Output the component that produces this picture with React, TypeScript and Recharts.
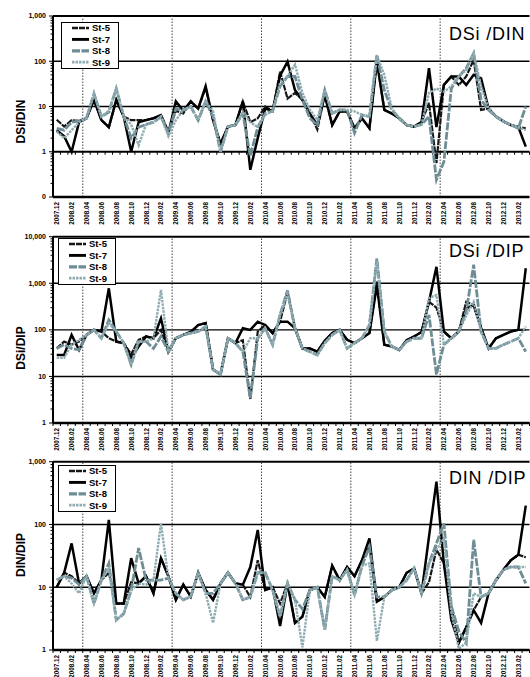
import { Legend, Line, LineChart, ReferenceLine, XAxis, YAxis } from 'recharts'

const FONT = '"Liberation Sans", Arial, sans-serif'

const MONTHS = [
  '2007.12',
  '2008.01', '2008.02', '2008.03', '2008.04', '2008.05', '2008.06', '2008.07', '2008.08', '2008.09', '2008.10', '2008.11', '2008.12',
  '2009.01', '2009.02', '2009.03', '2009.04', '2009.05', '2009.06', '2009.07', '2009.08', '2009.09', '2009.10', '2009.11', '2009.12',
  '2010.01', '2010.02', '2010.03', '2010.04', '2010.05', '2010.06', '2010.07', '2010.08', '2010.09', '2010.10', '2010.11', '2010.12',
  '2011.01', '2011.02', '2011.03', '2011.04', '2011.05', '2011.06', '2011.07', '2011.08', '2011.09', '2011.10', '2011.11', '2011.12',
  '2012.01', '2012.02', '2012.03', '2012.04', '2012.05', '2012.06', '2012.07', '2012.08', '2012.09', '2012.10', '2012.11', '2012.12',
  '2013.01', '2013.02', '2013.03',
]

// fiscal year starts, drawn as dotted separators
const FY_STARTS = ['2008.04', '2009.04', '2010.04', '2011.04', '2012.04']

// DSi/DIN
const DSI_DIN_ST5 = [
  5.1, 3.6, 5.0, 4.8, 5.5, 14, 5.0, 3.5,
  14, 6.0, 5.0, 5.0, 5.0, 5.5, 6.5, 2.8,
  8.0, 7.0, 13, 9.0, 26, 5.0, 1.5, 3.6,
  3.9, 13, 4.5, 5.5, 10, 8.0, 59, 15,
  20, 14, 7.0, 3.1, 18, 3.9, 7.8, 7.8,
  3.3, 5.5, 3.3, 107, 8.4, 7.0, 5.5, 3.9,
  3.6, 4.5, 12, 0.56, 30, 46, 30, 46,
  107, 8.4, 9.0, 6.0, 4.7, 3.9, 3.5, 3.3,
]
const DSI_DIN_ST7 = [
  3.0, 2.2, 1.0, 4.5, 5.5, 14, 5.0, 3.5,
  14, 6.0, 1.0, 4.5, 5.0, 5.5, 6.4, 2.6,
  13, 8.0, 13, 9.0, 28, 5.0, 1.5, 3.6,
  3.9, 13, 0.4, 2.0, 9.0, 8.0, 48, 98,
  23, 14, 7.0, 3.9, 18, 3.9, 7.8, 7.8,
  3.3, 5.5, 3.3, 100, 8.4, 7.0, 5.5, 3.9,
  3.6, 4.5, 70, 3.5, 30, 46, 46, 30,
  50, 42, 9.0, 6.0, 4.7, 3.9, 3.5, 1.3,
]
const DSI_DIN_ST8 = [
  3.3, 3.0, 4.5, 4.8, 5.5, 19, 6.0, 7.5,
  25, 6.0, 2.0, 3.5, 4.0, 4.5, 6.0, 2.6,
  9.0, 8.4, 10, 5.0, 13, 6.0, 1.0, 3.6,
  3.9, 7.0, 0.8, 3.5, 7.0, 8.0, 28, 46,
  46, 14, 5.5, 3.9, 23, 7.1, 8.4, 8.4,
  2.6, 6.5, 6.0, 137, 23, 8.4, 5.5, 3.9,
  3.6, 4.0, 6.0, 0.24, 0.6, 25, 46, 70,
  150, 14, 8.4, 6.0, 4.7, 3.9, 3.3, 10,
]
const DSI_DIN_ST9 = [
  2.8, 2.0, 3.0, 4.5, 5.5, 20, 6.0, 8.0,
  25, 6.0, 4.0, 1.4, 4.0, 4.5, 6.0, 2.2,
  5.0, 8.4, 10, 5.0, 13, 8.0, 1.0, 3.6,
  3.9, 7.5, 4.5, 3.5, 6.5, 8.0, 33, 46,
  85, 20, 8.5, 5.0, 23, 7.1, 8.4, 8.4,
  7.8, 6.5, 6.0, 137, 50, 9.0, 5.5, 3.9,
  3.6, 4.0, 20, 25, 21, 28, 46, 64,
  150, 28, 9.0, 6.0, 4.7, 3.9, 3.5, 3.0,
]

// DSi/DIP
const DSI_DIP_ST5 = [
  40, 56, 48, 56, 78, 100, 92, 66,
  56, 52, 30, 61, 72, 66, 100, 34,
  66, 78, 90, 127, 140, 14, 11, 66,
  52, 60, 3.2, 92, 127, 85, 150, 650,
  108, 40, 40, 34, 58, 85, 100, 61,
  52, 66, 85, 1090, 48, 44, 37, 60,
  72, 90, 400, 300, 92, 66, 92, 400,
  340, 110, 40, 66, 78, 92, 100, 100,
]
const DSI_DIP_ST7 = [
  29, 29, 78, 37, 78, 100, 92, 780,
  56, 52, 25, 44, 72, 66, 177, 34,
  66, 78, 90, 127, 140, 14, 11, 66,
  52, 108, 100, 150, 127, 85, 150, 150,
  108, 40, 40, 34, 58, 85, 100, 61,
  52, 66, 85, 900, 48, 44, 37, 60,
  72, 90, 400, 2260, 92, 66, 92, 290,
  340, 110, 40, 66, 78, 92, 100, 2100,
]
const DSI_DIP_ST8 = [
  40, 48, 40, 37, 78, 100, 66, 163,
  92, 52, 18, 56, 56, 40, 72, 34,
  66, 78, 85, 92, 118, 14, 11, 66,
  52, 34, 3.4, 66, 108, 48, 210, 700,
  108, 40, 34, 29, 52, 78, 100, 40,
  52, 66, 127, 3400, 92, 44, 37, 56,
  66, 66, 210, 11, 48, 66, 92, 250,
  2500, 92, 40, 40, 48, 56, 66, 34,
]
const DSI_DIP_ST9 = [
  25, 25, 48, 61, 78, 100, 66, 140,
  92, 52, 18, 56, 56, 66, 720, 34,
  66, 78, 85, 92, 118, 14, 11, 66,
  52, 34, 66, 66, 108, 48, 210, 600,
  108, 40, 34, 29, 52, 78, 100, 40,
  52, 66, 127, 3000, 92, 44, 37, 56,
  66, 66, 480, 560, 48, 66, 92, 200,
  400, 92, 40, 40, 48, 56, 66, 118,
]

// DIN/DIP
const DIN_DIP_ST5 = [
  10, 17, 15, 11.5, 15, 8, 13, 17,
  5.5, 5.5, 12, 11.5, 15, 8, 29, 15,
  6.3, 11, 7.1, 17, 9, 6.3, 11.5, 17,
  11.5, 11, 7, 27, 9, 10, 5.5, 11.5,
  2.7, 3.4, 9, 10, 7, 22, 13, 21,
  15, 27, 44, 5.9, 7, 9, 10, 17,
  20, 8, 12, 40, 24, 5, 1.3, 2.3,
  4.3, 7, 8, 13, 19, 27, 33, 30,
]
const DIN_DIP_ST7 = [
  10, 17, 50, 11.5, 15, 8, 13, 118,
  5.5, 5.5, 29, 11.5, 15, 8, 29, 15,
  6.3, 11, 7.1, 17, 9, 6.3, 11.5, 17,
  11.5, 11, 21, 82, 9, 10, 2.4, 11.5,
  2.7, 3.4, 9, 10, 7, 22, 13, 21,
  15, 27, 60, 5.9, 7, 9, 10, 17,
  20, 8, 64, 480, 24, 3, 1.3, 2.3,
  4.3, 2.7, 8, 13, 19, 27, 33, 200,
]
const DIN_DIP_ST8 = [
  13, 15, 14, 11, 15, 5.5, 13, 24,
  3, 3.8, 9, 42, 13, 13, 13, 14,
  8, 6.3, 7.1, 17, 8, 8, 11.5, 17,
  11.5, 6.3, 7, 17, 17, 9, 3.4, 11.5,
  6.3, 4.5, 9, 10, 2.1, 15, 13, 19,
  7.5, 22, 44, 7, 7, 9, 10, 13,
  20, 8, 24, 50, 104, 5, 2, 1.3,
  57, 7, 8, 13, 19, 21, 21, 11.5,
]
const DIN_DIP_ST9 = [
  13, 15, 11.5, 8, 15, 5.5, 13, 20,
  3, 3.8, 9, 11.5, 11, 13, 104, 14,
  8, 6.3, 7.1, 17, 8, 2.7, 11.5, 17,
  11.5, 6.3, 7, 17, 17, 9, 3.4, 11.5,
  6.3, 1.1, 9, 10, 2.1, 15, 13, 19,
  7.5, 22, 24, 1.4, 7, 9, 10, 13,
  20, 8, 24, 40, 60, 4, 1.05, 1.3,
  8, 7, 8, 13, 19, 21, 21, 21,
]

const SERIES = [
  { key: 'st5', name: 'St-5', color: '#161616', width: 2.2, dash: '6 1' },
  { key: 'st7', name: 'St-7', color: '#000000', width: 2.5, dash: undefined },
  { key: 'st8', name: 'St-8', color: '#6f8d94', width: 2.8, dash: '8 1.5' },
  { key: 'st9', name: 'St-9', color: '#8eacb2', width: 2.4, dash: '2.5 1' },
]

const PANELS = [
  {
    title: 'DSi /DIN', yLabel: 'DSi/DIN',
    top: 0, height: 228, plotTop: 16, plotBottom: 197, xAxisHeight: 30,
    majors: [0.1, 1, 10, 100, 1000],
    titleY: 39.5, yLabelY: 121.5, legendLeft: 61, legendTop: 22,
    values: { st5: DSI_DIN_ST5, st7: DSI_DIN_ST7, st8: DSI_DIN_ST8, st9: DSI_DIN_ST9 },
  },
  {
    title: 'DSi /DIP', yLabel: 'DSi/DIP',
    top: 226, height: 230, plotTop: 10.7, plotBottom: 197, xAxisHeight: 30,
    majors: [1, 10, 100, 1000, 10000],
    titleY: 31.3, yLabelY: 122, legendLeft: 58, legendTop: 12,
    values: { st5: DSI_DIP_ST5, st7: DSI_DIP_ST7, st8: DSI_DIP_ST8, st9: DSI_DIP_ST9 },
  },
  {
    title: 'DIN /DIP', yLabel: 'DIN/DIP',
    top: 451, height: 226, plotTop: 10.7, plotBottom: 199, xAxisHeight: 27,
    majors: [1, 10, 100, 1000],
    titleY: 33.3, yLabelY: 104, legendLeft: 58, legendTop: 14,
    values: { st5: DIN_DIP_ST5, st7: DIN_DIP_ST7, st8: DIN_DIP_ST8, st9: DIN_DIP_ST9 },
  },
]

const isMajor = (v: number) => Math.abs(Math.log10(v) - Math.round(Math.log10(v))) < 1e-6

const fmtY = (v: number) => (v < 1 ? '0' : v.toLocaleString('en-US'))

function YTick(props: any) {
  const { x, y, payload } = props
  const v = payload.value
  const major = isMajor(v)
  return (
    <g>
      <line x1={x - (major ? 4 : 2.5)} x2={x} y1={y} y2={y} stroke="#000" strokeWidth={1} />
      {major && (
        <text x={x - 7} y={y} dy="0.35em" textAnchor="end" fontSize={7} fontWeight="bold" fontFamily={FONT} fill="#000">
          {fmtY(v)}
        </text>
      )}
    </g>
  )
}

function XTick(props: any) {
  const { x, y, payload } = props
  const ty = y + 5
  return (
    <text
      x={x}
      y={ty}
      transform={`rotate(-90 ${x} ${ty})`}
      textAnchor="end"
      dominantBaseline="central"
      fontSize={6.3}
      fontWeight="bold"
      fontFamily={FONT}
      fill="#000"
    >
      {MONTHS[payload.value]}
    </text>
  )
}

// the category axis crosses at 1, with a tick between every month
function CrossingAxis(props: any) {
  const { x1, x2, y1 } = props
  const n = MONTHS.length
  const marks = []
  for (let k = 0; k <= n; k++) {
    const x = x1 + ((x2 - x1) * k) / n
    marks.push(<line key={k} x1={x} x2={x} y1={y1} y2={y1 + 3} stroke="#000" strokeWidth={1} />)
  }
  return (
    <g>
      <line x1={x1} x2={x2} y1={y1} y2={y1} stroke="#000" strokeWidth={2} />
      {marks}
    </g>
  )
}

function LegendBox() {
  return (
    <div style={{ width: 58, height: 47, border: '1px solid #000', background: '#fff', boxSizing: 'border-box' }}>
      <svg width={56} height={45} style={{ display: 'block' }}>
        {SERIES.map((s, i) => {
          const y = 5 + i * 11.4
          return (
            <g key={s.key}>
              <line x1={10} x2={27} y1={y} y2={y} stroke={s.color} strokeWidth={s.width + 0.4} strokeDasharray={s.dash} />
              <text x={30} y={y} dy="0.35em" fontSize={9.5} fontWeight="bold" fontFamily={FONT} fill="#000">
                {s.name}
              </text>
            </g>
          )
        })}
      </svg>
    </div>
  )
}

function Panel({ panel }: { panel: (typeof PANELS)[number] }) {
  const data = MONTHS.map((m, i) => ({
    i,
    month: m,
    st5: panel.values.st5[i],
    st7: panel.values.st7[i],
    st8: panel.values.st8[i],
    st9: panel.values.st9[i],
  }))
  const lo = panel.majors[0]
  const hi = panel.majors[panel.majors.length - 1]
  const yTicks: number[] = []
  panel.majors.forEach((d, idx) => {
    yTicks.push(d)
    if (idx < panel.majors.length - 1) for (let k = 2; k <= 9; k++) yTicks.push(d * k)
  })
  const xTicks = MONTHS.map((_, i) => i).filter((i) => i % 2 === 0)
  const marginBottom = panel.height - panel.plotBottom - panel.xAxisHeight

  return (
    <div style={{ position: 'absolute', left: 0, top: panel.top }}>
      <LineChart
        width={530}
        height={panel.height}
        data={data}
        margin={{ top: panel.plotTop, right: 0.5, left: 0, bottom: marginBottom }}
      >
        <XAxis
          dataKey="i"
          type="number"
          domain={[-0.5, MONTHS.length - 0.5]}
          ticks={xTicks}
          interval={0}
          height={panel.xAxisHeight}
          tickSize={0}
          tickMargin={0}
          tickLine={false}
          tick={<XTick />}
          axisLine={{ stroke: '#000', strokeWidth: 2.5 }}
          allowDataOverflow
          label={() => (
            <text x={449} y={panel.titleY} fontSize={18} letterSpacing={0.8} fontFamily={FONT} fill="#000">
              {panel.title}
            </text>
          )}
        />
        <YAxis
          type="number"
          scale="log"
          domain={[lo, hi]}
          ticks={yTicks}
          interval={0}
          width={53}
          tickSize={0}
          tickMargin={0}
          tickLine={false}
          tick={<YTick />}
          axisLine={{ stroke: '#000', strokeWidth: 2 }}
          allowDataOverflow
          label={() => (
            <text
              x={21}
              y={panel.yLabelY}
              transform={`rotate(-90 21 ${panel.yLabelY})`}
              textAnchor="middle"
              dominantBaseline="central"
              fontSize={12}
              fontWeight="bold"
              fontFamily={FONT}
              fill="#000"
            >
              {panel.yLabel}
            </text>
          )}
        />
        {panel.majors
          .filter((v) => v > 1)
          .map((v) => (
            <ReferenceLine key={v} y={v} stroke="#000" strokeWidth={v === hi ? 2 : 1.4} />
          ))}
        {FY_STARTS.map((m) => (
          <ReferenceLine
            key={m}
            x={MONTHS.indexOf(m) - 0.5}
            stroke="#444"
            strokeWidth={1}
            strokeDasharray="1.5 1.5"
          />
        ))}
        <ReferenceLine y={1} shape={<CrossingAxis />} />
        {SERIES.map((s) => (
          <Line
            key={s.key}
            dataKey={s.key}
            name={s.name}
            stroke={s.color}
            strokeWidth={s.width}
            strokeDasharray={s.dash}
            dot={false}
            activeDot={false}
            isAnimationActive={false}
          />
        ))}
        <Legend
          layout="vertical"
          align="center"
          verticalAlign="middle"
          content={<LegendBox />}
          wrapperStyle={{ left: panel.legendLeft, top: panel.legendTop, width: 58, height: 47 }}
        />
      </LineChart>
    </div>
  )
}

export default function App() {
  return (
    <div style={{ position: 'absolute', left: 0, top: 0, width: 530, height: 677, background: '#fff', fontFamily: FONT }}>
      {PANELS.map((p) => (
        <Panel key={p.title} panel={p} />
      ))}
    </div>
  )
}
